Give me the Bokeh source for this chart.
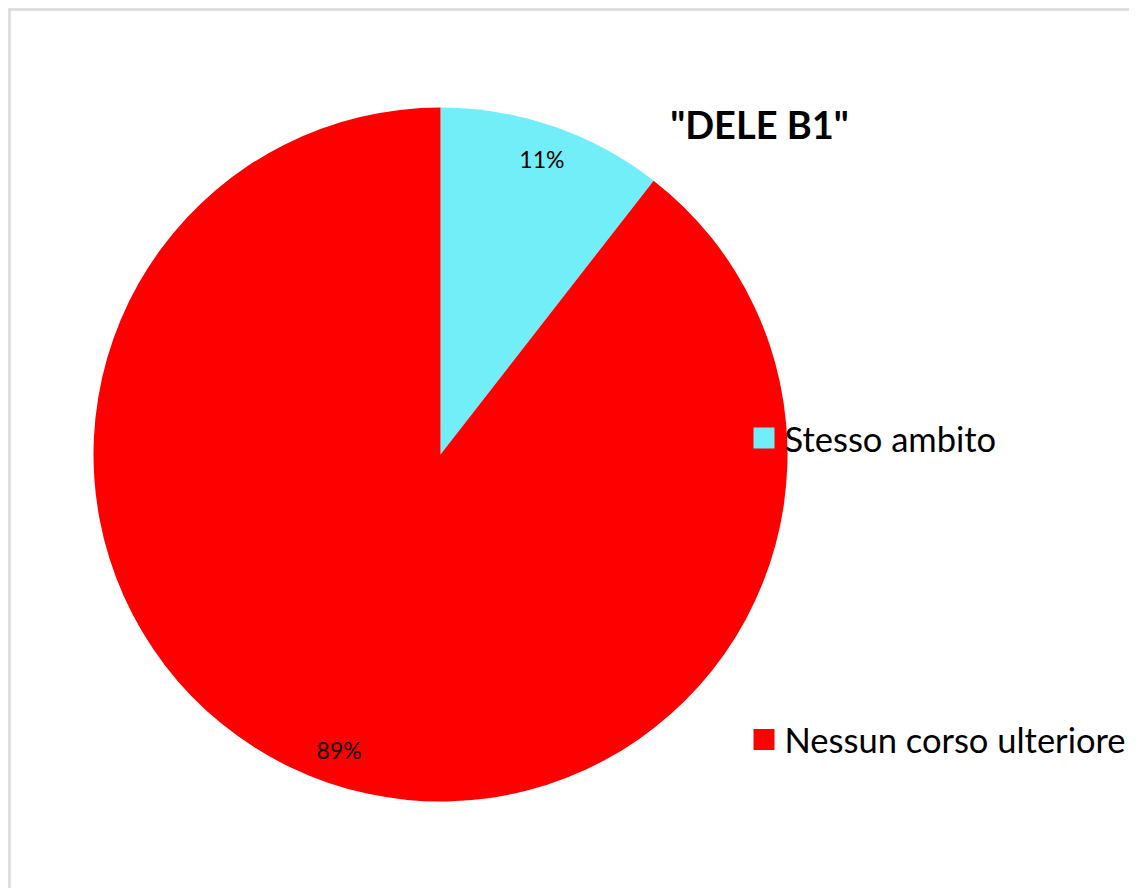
import numpy as np
from bokeh.plotting import figure
from bokeh.models import Range1d, ColumnDataSource
from bokeh.core.properties import value
from bokeh.embed import file_html
from bokeh.resources import INLINE

# ---- data ----
title_text = '"DELE B1"'
categories = ["Stesso ambito", "Nessun corso ulteriore"]
counts = [2, 17]
colors = ["#72EEF8", "#FF0000"]

# ---- layout ----
W, H = 1129, 888
CX, CY, R = 440, 434, 347

vals = np.array(counts, dtype=float)
frac = vals / vals.sum()
ang = frac * 2 * np.pi
cum = np.cumsum(ang)
start = np.pi / 2 - np.concatenate([[0], cum[:-1]])
end = np.pi / 2 - cum
mid = (start + end) / 2
pct = [f"{round(f * 100):.0f}%" for f in frac]

src = ColumnDataSource(dict(cat=categories, start=start, end=end, color=colors,
                            lx=CX + 0.9 * R * np.cos(mid), ly=CY + 0.9 * R * np.sin(mid),
                            pct=pct))

p = figure(width=W, height=H, output_backend="svg", toolbar_location=None,
           x_range=Range1d(0, W), y_range=Range1d(0, H),
           x_axis_type=None, y_axis_type=None, min_border=0,
           background_fill_color="white", border_fill_color="white")
p.outline_line_color = None
p.grid.visible = False

# chart border (left & top visible)
p.line(x=[9, 9], y=[0, 880], line_color="#D9D9D9", line_width=2.5)
p.line(x=[8, W], y=[879, 879], line_color="#D9D9D9", line_width=2.5)

p.wedge(x=CX, y=CY, radius=R, start_angle="start", end_angle="end", direction="clock",
        fill_color="color", line_color=None, source=src)

p.text(x="lx", y="ly", text="pct", source=src, text_align="center", text_baseline="middle",
       text_font=value("Lato"), text_font_size="23px", text_color="black")

# title
p.text(x=[759], y=[765], text=[title_text], text_align="center", text_baseline="middle",
       text_font=value("Lato"), text_font_style="bold", text_font_size="38px", text_color="black")

# legend
leg_y = [450.5 - i * 301.5 for i in range(len(categories))]
p.rect(x=[763.5] * len(categories), y=leg_y, width=21, height=21, fill_color=colors, line_color=None)
p.text(x=[784] * len(categories), y=leg_y, text=categories, text_align="left", text_baseline="middle",
       text_font=value("Lato"), text_font_size="34.5px", text_color="black")

open("out.html", "w").write(file_html(p, INLINE))
